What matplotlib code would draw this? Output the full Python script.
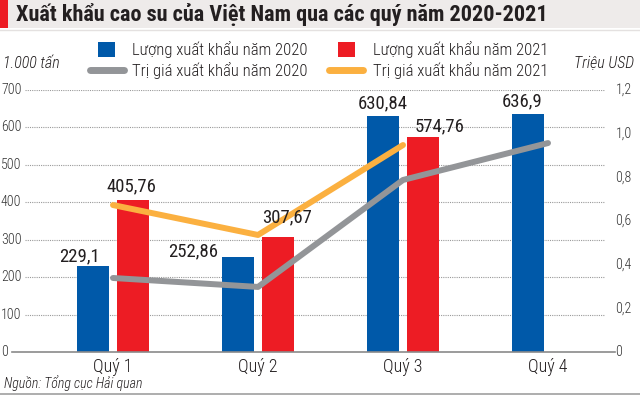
import matplotlib
matplotlib.use('Agg')
import matplotlib.pyplot as plt
from matplotlib.patches import Rectangle
from matplotlib.lines import Line2D

# ---------------- data ----------------
quarters = ['Quý 1', 'Quý 2', 'Quý 3', 'Quý 4']
vol_2020 = [229.1, 252.86, 630.84, 636.9]          # 1.000 tấn
vol_2021 = [405.76, 307.67, 574.76, None]
val_2020 = [0.339, 0.298, 0.788, 0.957]            # triệu USD
val_2021 = [0.673, 0.536, 0.948]
lab_2020 = ['229,1', '252,86', '630,84', '636,9']
lab_2021 = ['405,76', '307,67', '574,76']
left_ticks = [0, 100, 200, 300, 400, 500, 600, 700]
right_ticks = [0, 0.2, 0.4, 0.6, 0.8, 1.0, 1.2]
right_tick_labels = ['0', '0,2', '0,4', '0,6', '0,8', '1,0', '1,2']

title = 'Xuất khẩu cao su của Việt Nam qua các quý năm 2020-2021'
leg_labels = ['Lượng xuất khẩu năm 2020', 'Lượng xuất khẩu năm 2021',
              'Trị giá xuất khẩu năm 2020', 'Trị giá xuất khẩu năm 2021']

# ---------------- style ----------------
FONT = ['Roboto Condensed', 'DejaVu Sans']
plt.rcParams['font.family'] = FONT
BLUE = '#0059A9'
RED = '#ED1C24'
GRAY = '#939598'
ORANGE = '#FBB040'
TXT = '#231F20'
LIGHT = 'light'

W, H = 640, 395
fig = plt.figure(figsize=(6.4, 3.95), dpi=100)
fig.patch.set_facecolor('white')

def fx(x):
    return x / W

def fy(y):
    return 1 - y / H

# title bar
fig.patches.append(Rectangle((0, fy(28)), 1, 28 / H, transform=fig.transFigure,
                             facecolor='#EEEBEA', edgecolor='none', zorder=0))
fig.patches.append(Rectangle((0, fy(28)), fx(8), 28 / H, transform=fig.transFigure,
                             facecolor=RED, edgecolor='none', zorder=1))
fig.lines.append(Line2D([0, 1], [fy(29.5), fy(29.5)], transform=fig.transFigure,
                        color='#E4E1E0', lw=1))
fig.text(fx(16), fy(15), title, fontsize=16, fontweight='bold', color=TXT,
         va='center', ha='left')

# bottom rule
fig.lines.append(Line2D([0, 1], [fy(393.5), fy(393.5)], transform=fig.transFigure,
                        color='#A0A0A0', lw=1.2))
fig.text(fx(4), fy(383), 'Nguồn: Tổng cục Hải quan', fontsize=10, style='italic',
         fontweight=LIGHT, color=TXT, va='center', ha='left')

# axis unit labels
fig.text(fx(3), fy(64), '1.000 tấn', fontsize=11.5, style='italic', fontweight=LIGHT,
         color=TXT, va='center', ha='left')
fig.text(fx(634), fy(64), 'Triệu USD', fontsize=11.5, style='italic', fontweight=LIGHT,
         color=TXT, va='center', ha='right')

# legend
fig.patches.append(Rectangle((fx(98), fy(57)), 17 / W, 15 / H, transform=fig.transFigure,
                             facecolor=BLUE, edgecolor='none'))
fig.patches.append(Rectangle((fx(338), fy(57)), 17 / W, 15 / H, transform=fig.transFigure,
                             facecolor=RED, edgecolor='none'))
fig.lines.append(Line2D([fx(90), fx(124)], [fy(70), fy(70)], transform=fig.transFigure,
                        color=GRAY, lw=5, solid_capstyle='round'))
fig.lines.append(Line2D([fx(329), fx(363)], [fy(70), fy(70)], transform=fig.transFigure,
                        color=ORANGE, lw=5, solid_capstyle='round'))
for x, y, t in [(132, 50, leg_labels[0]), (373, 50, leg_labels[1]),
                (132, 71, leg_labels[2]), (373, 71, leg_labels[3])]:
    fig.text(fx(x), fy(y), t, fontsize=12, fontweight=LIGHT, color=TXT,
             va='center', ha='left')

# ---------------- axes ----------------
ax = fig.add_axes([fx(25), fy(352), 580 / W, 262 / H])
ax.set_xlim(-0.607, 3.393)
ax.set_ylim(0, 700)
for s in ax.spines.values():
    s.set_visible(False)
ax.set_xticks([])
ax.set_yticks([])
ax.patch.set_alpha(0)

# grid
for v in left_ticks[1:]:
    ax.axhline(v, color='#9A9A9A', lw=0.8, ls=(0, (1, 1)), zorder=0)
ax.plot([-0.0224, 1.017], [0, 0], transform=ax.transAxes, color='#8A8A8A', lw=1.2,
        clip_on=False, zorder=3)

# left tick labels
for v in left_ticks:
    ax.text(-0.0414, v, str(v), transform=ax.get_yaxis_transform(), fontsize=10,
            fontweight=LIGHT, color='#333333', va='center', ha='left')

# category labels
xs = list(range(len(quarters)))
for x, q in zip(xs, quarters):
    ax.text(x, -40, q, fontsize=13, fontweight=LIGHT, color=TXT, ha='center', va='center')

# bars
bw = 0.222
off = 0.14
x20 = [x - off for x in xs]
x21 = [x + off for x, v in zip(xs, vol_2021) if v is not None]
v21 = [v for v in vol_2021 if v is not None]
ax.bar(x20, vol_2020, width=bw, color=BLUE, zorder=2)
ax.bar(x21, v21, width=bw, color=RED, zorder=2)

# lines on right axis
ax2 = ax.twinx()
ax2.set_ylim(0, 1.2)
ax2.set_xlim(ax.get_xlim())
for s in ax2.spines.values():
    s.set_visible(False)
ax2.set_xticks([])
ax2.set_yticks([])
ax2.plot(xs, val_2020, color=GRAY, lw=4.3, solid_capstyle='round', solid_joinstyle='round')
ax2.plot(xs[:len(val_2021)], val_2021, color=ORANGE, lw=4.3, solid_capstyle='round',
         solid_joinstyle='round')

for v, t in zip(right_ticks, right_tick_labels):
    ax2.text(1.018, v, t, transform=ax2.get_yaxis_transform(), fontsize=10,
             fontweight=LIGHT, color='#333333', va='center', ha='left')

# data labels (pixel offsets from bar top centre)
off_2020 = [(-13, 5), (-45, 1), (0, 8), (-6, 7)]
off_2021 = [(-2, 9), (9, 14), (16, 6)]
for x, v, t, o in zip(x20, vol_2020, lab_2020, off_2020):
    ax2.annotate(t, xy=(x, v), xycoords=ax.transData, xytext=o, textcoords='offset pixels',
                 ha='center', va='baseline', fontsize=13.5, color=TXT)
for x, v, t, o in zip(x21, v21, lab_2021, off_2021):
    ax2.annotate(t, xy=(x, v), xycoords=ax.transData, xytext=o, textcoords='offset pixels',
                 ha='center', va='baseline', fontsize=13.5, color=TXT)

fig.savefig('out.png', dpi=100)
